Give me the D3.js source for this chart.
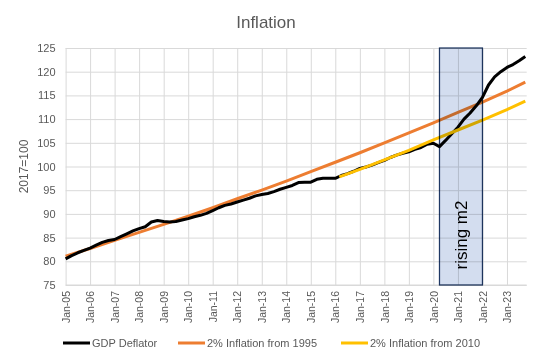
<!DOCTYPE html>
<html>
<head>
<meta charset="utf-8">
<script src="https://cdn.jsdelivr.net/npm/d3@7"></script>
<style>
  html, body { margin: 0; padding: 0; background: #fff; }
  svg { display: block; font-family: "Liberation Sans", Arial, sans-serif; }
</style>
</head>
<body>
<svg id="chart" width="540" height="357"></svg>
<script>
// ---- Data ----
const gdpDates = [
  "2005-01","2005-04","2005-07","2005-10","2006-01","2006-04","2006-07","2006-10",
  "2007-01","2007-04","2007-07","2007-10","2008-01","2008-04","2008-07","2008-10",
  "2009-01","2009-04","2009-07","2009-10","2010-01","2010-04","2010-07","2010-10",
  "2011-01","2011-04","2011-07","2011-10","2012-01","2012-04","2012-07","2012-10",
  "2013-01","2013-04","2013-07","2013-10","2014-01","2014-04","2014-07","2014-10",
  "2015-01","2015-04","2015-07","2015-10","2016-01","2016-04","2016-07","2016-10",
  "2017-01","2017-04","2017-07","2017-10","2018-01","2018-04","2018-07","2018-10",
  "2019-01","2019-04","2019-07","2019-10","2020-01","2020-04","2020-07","2020-10",
  "2021-01","2021-04","2021-07","2021-10","2022-01","2022-04","2022-07","2022-10",
  "2023-01","2023-04","2023-07","2023-10"
];
const gdpDeflator = [
  80.5, 81.2, 81.8, 82.3, 82.8, 83.4, 84.0, 84.4,
  84.6, 85.2, 85.8, 86.4, 86.9, 87.3, 88.3, 88.6,
  88.4, 88.3, 88.4, 88.7, 89.0, 89.4, 89.7, 90.1,
  90.7, 91.3, 91.8, 92.1, 92.5, 92.9, 93.3, 93.8,
  94.1, 94.3, 94.7, 95.2, 95.6, 96.0, 96.6, 96.7,
  96.7, 97.3, 97.5, 97.5, 97.5, 98.1, 98.5, 99.0,
  99.6, 99.9, 100.3, 100.8, 101.3, 101.9, 102.4, 102.8,
  103.1, 103.6, 104.0, 104.7, 104.9, 104.2, 105.5, 106.9,
  108.3, 110.0, 111.3, 112.8, 114.6, 117.2, 118.9, 120.0,
  120.9, 121.5, 122.3, 123.2
];

const infl1995Dates = [
  "2005-01","2006-01","2007-01","2008-01","2009-01","2010-01","2011-01","2012-01",
  "2013-01","2014-01","2015-01","2016-01","2017-01","2018-01","2019-01","2020-01",
  "2021-01","2022-01","2023-01","2023-10"
];
const infl1995 = [
  81.1, 82.7, 84.4, 86.1, 87.8, 89.5, 91.3, 93.2,
  95.0, 96.9, 98.9, 100.9, 102.9, 105.0, 107.1, 109.2,
  111.4, 113.6, 115.9, 117.8
];

const infl2010Dates = [
  "2016-03","2017-01","2018-01","2019-01","2020-01","2021-01","2022-01","2023-01","2023-10"
];
const infl2010 = [97.8, 99.4, 101.4, 103.4, 105.6, 107.7, 109.8, 112.0, 113.8];

const shadeRange = ["2020-04", "2022-01"];
const shadeLabel = "rising m2";

const yTicks = [75, 80, 85, 90, 95, 100, 105, 110, 115, 120, 125];
const seriesNames = ["GDP Deflator", "2% Inflation from 1995", "2% Inflation from 2010"];
const seriesColors = ["#000000", "#ED7D31", "#FFC000"];

const titleText = "Inflation";
const yAxisTitle = "2017=100";

// ---- Drawing ----
(function () {
const parse = d3.timeParse("%Y-%m");
const svg = d3.select("#chart");

const pLeft = 65.6, pRight = 526.7, pTop = 48, pBottom = 285;
const x = d3.scaleTime()
  .domain([parse("2005-01"), new Date(2023, 9, 22)])
  .range([pLeft, pRight]);
const y = d3.scaleLinear().domain([75, 125]).range([pBottom, pTop]);

const textColor = "#595959";
const gridColor = "#d9d9d9";

// Title
svg.append("text")
  .attr("x", 266).attr("y", 28)
  .attr("text-anchor", "middle")
  .attr("font-size", 17)
  .attr("fill", textColor)
  .text(titleText);

// Horizontal gridlines via y axis
const yAxis = d3.axisLeft(y).tickValues(yTicks).tickSize(-(pRight - pLeft)).tickPadding(10);
const gy = svg.append("g").attr("transform", `translate(${pLeft},0)`).call(yAxis);
gy.select(".domain").remove();
gy.selectAll(".tick line").attr("stroke", gridColor).attr("stroke-width", 1);
gy.selectAll(".tick text").attr("fill", textColor).attr("font-size", 11)
  .attr("font-family", "Liberation Sans, Arial, sans-serif");

// Vertical gridlines + labels via x axis
const xTickDates = d3.timeYear.range(parse("2005-01"), parse("2024-01"));
const xAxis = d3.axisBottom(x).tickValues(xTickDates).tickSize(-(pBottom - pTop))
  .tickFormat(d3.timeFormat("%b-%y"));
const gx = svg.append("g").attr("transform", `translate(0,${pBottom})`).call(xAxis);
gx.select(".domain").attr("stroke", gridColor).attr("d", `M${pLeft},0H${pRight}`);
gx.selectAll(".tick line").attr("stroke", gridColor).attr("stroke-width", 1);
gx.selectAll(".tick text")
  .attr("fill", textColor).attr("font-size", 10.5)
  .attr("font-family", "Liberation Sans, Arial, sans-serif")
  .attr("text-anchor", "end")
  .attr("transform", "rotate(-90)")
  .attr("x", -6).attr("y", 0).attr("dy", "0.35em");

// Y axis title
svg.append("text")
  .attr("transform", `translate(28,${(pTop + pBottom) / 2}) rotate(-90)`)
  .attr("text-anchor", "middle")
  .attr("font-size", 12)
  .attr("fill", textColor)
  .text(yAxisTitle);

// Lines
const line = d3.line().x(d => x(d[0])).y(d => y(d[1]));
const toPts = (dates, vals) => dates.map((d, i) => [parse(d), vals[i]]);

svg.append("path").datum(toPts(infl1995Dates, infl1995))
  .attr("fill", "none").attr("stroke", seriesColors[1]).attr("stroke-width", 3)
  .attr("stroke-linejoin", "round").attr("d", line);
svg.append("path").datum(toPts(gdpDates, gdpDeflator))
  .attr("fill", "none").attr("stroke", seriesColors[0]).attr("stroke-width", 3)
  .attr("stroke-linejoin", "round").attr("d", line);
svg.append("path").datum(toPts(infl2010Dates, infl2010))
  .attr("fill", "none").attr("stroke", seriesColors[2]).attr("stroke-width", 3)
  .attr("stroke-linejoin", "round").attr("d", line);

// Shaded box (tinted overlay, on top)
const sx1 = x(parse(shadeRange[0])), sx2 = x(parse(shadeRange[1]));
svg.append("rect")
  .attr("x", sx1).attr("y", pTop)
  .attr("width", sx2 - sx1).attr("height", pBottom - pTop)
  .attr("fill", "#D3DDEF")
  .style("mix-blend-mode", "multiply")
  .attr("stroke", "#1F3864").attr("stroke-width", 1.25);
svg.append("text")
  .attr("transform", `translate(${(sx1 + sx2) / 2 + 6},${235}) rotate(-90)`)
  .attr("text-anchor", "middle")
  .attr("font-size", 17)
  .attr("fill", "#000")
  .text(shadeLabel);

// Legend
const legendX = [63, 178, 341];
const lg = svg.append("g");
seriesNames.forEach((name, i) => {
  lg.append("line")
    .attr("x1", legendX[i]).attr("x2", legendX[i] + 27)
    .attr("y1", 343).attr("y2", 343)
    .attr("stroke", seriesColors[i]).attr("stroke-width", 3);
  lg.append("text")
    .attr("x", legendX[i] + 29).attr("y", 347)
    .attr("font-size", 11).attr("fill", textColor)
    .text(name);
});
})();
</script>
</body>
</html>
